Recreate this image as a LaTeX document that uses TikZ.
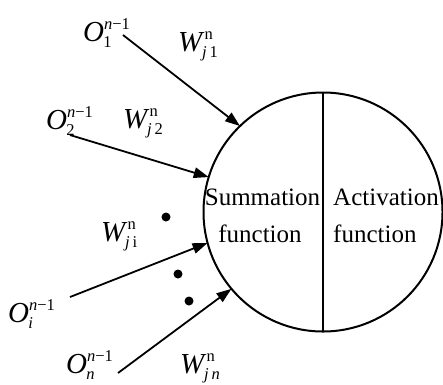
\documentclass[tikz,border=0pt]{standalone}
\usepackage{fontspec}
\setmainfont{Liberation Serif}
\usetikzlibrary{arrows.meta}
\newcommand\lbsz{\fontsize{29}{29}\selectfont}
\newcommand\smsz{\fontsize{16.5}{16.5}\selectfont}
% #1 main letter, #2 superscript, #3 subscript, #4 subscript kern
\newcommand\neurlab[4]{\lbsz\textit{#1}\makebox[0pt][l]{\raisebox{0.38em}{\smsz #2}}\kern#4\raisebox{-0.22em}{\smsz #3}}
\begin{document}
\begin{tikzpicture}[x=1pt,y=-1pt,
  lab/.style={inner sep=0pt,anchor=base west},
  txt/.style={inner sep=0pt,anchor=base,font=\fontsize{25}{25}\selectfont},
  arr/.style={line width=1.8pt,-{Triangle[length=15pt,width=10.5pt]}},
  dotnode/.style={circle,fill=black,inner sep=0pt,minimum size=9pt}]
\useasboundingbox (0,0) rectangle (443,384);
\node[circle,draw,line width=2pt,minimum size=239pt,inner sep=0pt,outer sep=0pt] (c) at (323,212) {};
\draw[line width=1.4pt] (c.north) -- (c.south);
\node[txt] (s1) at (262.5,205) {Summation};
\node[txt] (s2) at (260,242) {function};
\node[txt,anchor=base west] (a1) at (333,205) {Activation};
\node[txt,anchor=base west] (a2) at (333,242) {function};
% labels
\node[lab] (o1) at (83,41) {\neurlab{O}{\textit{n}−1}{1}{-0.03em}};
\node[lab] (o2) at (46,129) {\neurlab{O}{\textit{n}−1}{2}{-0.03em}};
\node[lab] (oi) at (8,322) {\neurlab{O}{\textit{n}−1}{\textit{i}}{-0.03em}};
\node[lab] (on) at (66,373) {\neurlab{O}{\textit{n}−1}{\textit{n}}{-0.03em}};
\node[lab] (w1) at (178,51) {\neurlab{W}{n}{\textit{j}\,1}{-0.08em}};
\node[lab] (w2) at (123,128) {\neurlab{W}{n}{\textit{j}\,2}{-0.08em}};
\node[lab] (wi) at (101,241) {\neurlab{W}{n}{\textit{j}\,i}{-0.08em}};
\node[lab] (wn) at (180,373) {\neurlab{W}{n}{\textit{j}\,\textit{n}}{-0.08em}};
% arrow starts
\coordinate (p1) at (123,35);
\coordinate (p2) at (70,135);
\coordinate (p3) at (70,297);
\coordinate (p4) at (118,373);
\draw[arr] (p1) -- (c.134.7);
\draw[arr] (p2) -- (c.163.7);
\draw[arr] (p3) -- (c.195.6);
\draw[arr] (p4) -- (c.220.9);
% dots
\node[dotnode] (d1) at (166,217) {};
\node[dotnode] (d2) at (178,274) {};
\node[dotnode] (d3) at (189,301) {};
\end{tikzpicture}
\end{document}
